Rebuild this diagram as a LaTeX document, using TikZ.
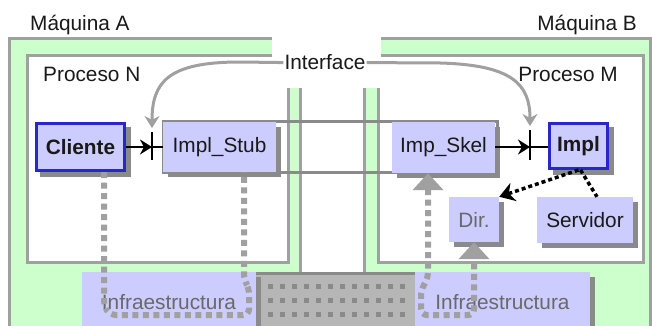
\documentclass[tikz,border=0pt]{standalone}
\usepackage{fontspec}
\setmainfont{Liberation Sans}
\usetikzlibrary{arrows.meta}

\definecolor{machgreen}{RGB}{204,255,204}
\definecolor{boxblue}{RGB}{204,204,255}
\definecolor{edgeblue}{RGB}{40,40,200}
\definecolor{framegray}{RGB}{160,160,160}
\definecolor{boxshade}{RGB}{138,138,138}
\definecolor{linkgray}{RGB}{160,160,160}
\definecolor{netgray}{RGB}{182,182,182}
\definecolor{netdark}{RGB}{138,138,138}
\definecolor{fadetext}{RGB}{105,105,105}
\definecolor{inktext}{RGB}{25,25,25}

\begin{document}
\begin{tikzpicture}[x=1pt,y=-1pt,
  font=\fontsize{20.8}{24}\selectfont,
  machine/.style={fill=machgreen,draw=framegray,line width=3pt},
  process/.style={fill=white,draw=framegray,line width=3pt},
  comp/.style={fill=boxblue,inner sep=0pt,text=inktext},
  client/.style={comp,draw=edgeblue,line width=3pt,font=\fontsize{20.8}{24}\selectfont\bfseries},
  service/.style={comp,text=fadetext},
  label/.style={inner sep=0pt,text=inktext},
  call/.style={draw=black,line width=2.5pt,-{Stealth[length=12pt,width=15pt]}},
  barline/.style={draw=black,line width=2.5pt},
  iface/.style={draw=framegray,line width=3pt,-{Stealth[length=12pt,width=15pt]}},
  netlink/.style={draw=linkgray,line width=6pt,dash pattern=on 6pt off 4.5pt},
  ctrl/.style={draw=black,line width=3.5pt,dash pattern=on 4pt off 3pt}
]
\useasboundingbox (0,0) rectangle (652,326);
\fill[white] (0,0) rectangle (652,326);

% the two machines
\draw[machine] (9.5,38.5) rectangle (300.5,345);
\draw[machine] (364.5,38.5) rectangle (650.5,345);

% the two processes
\draw[process] (27,56) rectangle (288.5,262);
\draw[process] (378,56) rectangle (643.5,262);

% free band for the Interface label
\fill[white] (272,0) rectangle (380.5,88);

% channel between stub and skeleton
\draw[netdark,line width=3pt] (163,121) rectangle (497,172);

% network between the two infrastructures
\fill[netgray] (256,272) rectangle (415,335);
\foreach \x in {268,280,...,404}
  \foreach \y in {284,298,312}
    \fill[netdark] (\x,\y) rectangle +(5,5);
\draw[netdark,line width=3pt] (256,273.5) -- (415,273.5);

% drop shadows of the components
\fill[boxshade] (40,127) rectangle (131,177);
\fill[boxshade] (168,127) rectangle (281,177);
\fill[boxshade] (397,127) rectangle (500,178);
\fill[boxshade] (553,127) rectangle (614,175);
\fill[boxshade] (454,202) rectangle (504,247);
\fill[boxshade] (542,202) rectangle (638,248);
\fill[boxshade] (87,277) rectangle (261,337);
\fill[boxshade] (420,277) rectangle (595,337);

% components
\node[client,minimum width=88pt,minimum height=47pt] (Cliente) at (80.5,147) {Cliente};
\node[comp,minimum width=113pt,minimum height=50pt] (Stub) at (219.5,147) {Impl\_Stub};
\node[comp,minimum width=103pt,minimum height=51pt] (Skel) at (443.5,147.5) {Imp\_Skel};
\node[client,minimum width=58pt,minimum height=45pt] (Impl) at (578.5,146) {Impl};
\node[service,minimum width=50pt,minimum height=45pt] (Dir) at (474,219.5) {Dir.};
\node[comp,minimum width=96pt,minimum height=46pt] (Servidor) at (585,220) {Servidor};
\node[service,minimum width=174pt,minimum height=60pt] (InfraA) at (169,302) {Infraestructura};
\node[service,minimum width=175pt,minimum height=60pt] (InfraB) at (502.5,302) {Infraestructura};

% labels
\node[label,anchor=base west] (MaqA) at (30,31) {Máquina A};
\node[label,anchor=base east] (MaqB) at (637,31) {Máquina B};
\node[label,anchor=base west] (ProcN) at (43,82) {Proceso N};
\node[label,anchor=base east] (ProcM) at (618,82) {Proceso M};
\node[label,anchor=base,fill=white,inner xsep=1pt] (Iface) at (325,70) {Interface};

% interface bars
\coordinate (barL) at (152,147);
\coordinate (barLtop) at (152,132);
\coordinate (barLbot) at (152,160);
\coordinate (barR) at (530,147);
\coordinate (barRtop) at (530,130);
\coordinate (barRbot) at (530,160);

% calls through the interface
\draw[call] (Cliente.east) -- (barL);
\draw[barline] (barLtop) -- (barLbot);
\draw[barline] (barL) -- (Stub.west);
\draw[call] (Skel.east |- barR) -- (barR);
\draw[barline] (barRtop) -- (barRbot);
\draw[barline] (barR) -- (Impl.west |- barR);

% interface pointers
\draw[iface] (Iface.west) -- (240,62) .. controls (168,62) and (152,82) .. ([yshift=4pt]barLtop);
\draw[iface] (Iface.east) -- (440,63) .. controls (512,65) and (530,84) .. ([yshift=4pt]barRtop);

% infrastructure links
\draw[netlink,rounded corners=6pt] ([xshift=23.5pt]Cliente.south) -- (104,306) -- (110,315)
  -- (249,315) -- (249,288) -- (244,280) -- ([xshift=24.5pt]Stub.south);
\draw[netlink,rounded corners=6pt,
  {Triangle[width=30pt,length=17pt]}-{Triangle[width=30pt,length=17pt]}]
  ([xshift=-15.5pt]Skel.south) -- (428,278) -- (421,290) -- (421,315) -- (474,315) -- (Dir.south);

% implementation to directory and server
\draw[ctrl,-{Stealth[length=15pt,width=19pt]}] (Impl.south) -- (Dir.north east);
\draw[ctrl] ([xshift=2pt]Impl.south) -- ([xshift=12pt]Servidor.north);
\end{tikzpicture}
\end{document}
